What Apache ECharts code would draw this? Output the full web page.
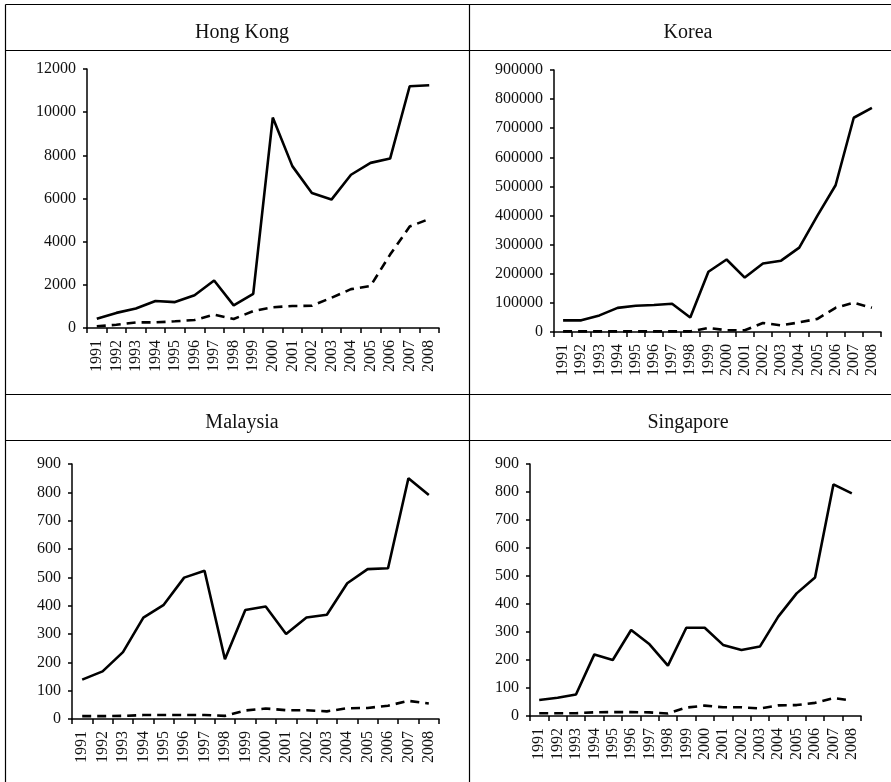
<!DOCTYPE html>
<html>
<head>
<meta charset="utf-8">
<script src="https://cdn.jsdelivr.net/npm/echarts@6/dist/echarts.min.js"></script>
<style>
html,body{margin:0;padding:0;background:#fff;}
#c{width:891px;height:782px;}
</style>
</head>
<body>
<div id="c"></div>
<script>
const years = ['1991','1992','1993','1994','1995','1996','1997','1998','1999','2000','2001','2002','2003','2004','2005','2006','2007','2008'];

const panelTitles = ['Hong Kong','Korea','Malaysia','Singapore'];

const hkSolid = [430,700,900,1250,1200,1520,2200,1050,1580,9750,7500,6250,5950,7100,7650,7850,11200,11250];
const hkDashed = [80,150,260,260,310,370,620,420,780,960,1020,1030,1400,1800,1950,3400,4700,5050];

const krSolid = [40000,40000,57000,83000,90000,93000,97000,50000,207000,249000,187000,235000,245000,290000,400000,504000,736000,770000];
const krDashed = [2000,2000,2000,2000,2000,2000,2000,2000,14000,6000,6000,31000,23000,33000,45000,83000,101000,83000];

const mySolid = [139,168,236,358,403,499,523,211,385,397,300,358,368,479,529,532,850,791];
const myDashed = [10,10,11,14,14,14,14,11,30,37,31,31,27,38,39,47,64,55];

const sgSolid = [57,65,77,220,200,307,256,180,315,315,254,236,248,355,438,495,827,795];
const sgDashed = [10,10,10,13,14,14,13,9,30,37,31,31,27,38,39,47,64,55];

const yMax = [12000,900000,900,900];
const yInterval = [2000,100000,100,100];

const solidSeries = [hkSolid, krSolid, mySolid, sgSolid];
const dashedSeries = [hkDashed, krDashed, myDashed, sgDashed];

const FONT = 'Liberation Serif';

const grids = [
  {left:87, right:452, top:69, bottom:454},
  {left:554, right:10, top:70, bottom:450},
  {left:72, right:452, top:464, bottom:63},
  {left:530, right:30, top:464, bottom:66}
];

const titleCenters = [[237,28],[683,28],[237,418],[683,418]];

const chart = echarts.init(document.getElementById('c'), null, {renderer:'canvas'});

const xAxes = grids.map((g,i)=>({
  type:'category', gridIndex:i, data:years, boundaryGap:true,
  axisLine:{lineStyle:{color:'#000',width:1.5}},
  axisTick:{show:true, inside:false, length:5, alignWithLabel:false, lineStyle:{color:'#000',width:1.5}},
  axisLabel:{rotate:90, interval:0, margin:12, color:'#111', fontFamily:FONT, fontSize:16}
}));
const yAxes = grids.map((g,i)=>({
  type:'value', gridIndex:i, min:0, max:yMax[i], interval:yInterval[i],
  axisLine:{show:true, lineStyle:{color:'#000',width:1.5}},
  axisTick:{show:true, length:4, lineStyle:{color:'#000',width:1.5}},
  splitLine:{show:false},
  axisLabel:{margin:11, color:'#111', fontFamily:FONT, fontSize:16, formatter:(v)=>String(v)}
}));

const series = [];
for (let i=0;i<4;i++){
  series.push({type:'line', xAxisIndex:i, yAxisIndex:i, data:solidSeries[i], symbol:'none',
    lineStyle:{color:'#000', width:2.6, type:'solid'}, animation:false, silent:true});
  series.push({type:'line', xAxisIndex:i, yAxisIndex:i, data:dashedSeries[i], symbol:'none',
    lineStyle:{color:'#000', width:2.6, type:[9,6]}, animation:false, silent:true});
}

const lineStyle = {stroke:'#000', lineWidth:1.2};
const graphics = [
  {type:'line', shape:{x1:5.5,y1:4.5,x2:891,y2:4.5}, style:lineStyle},
  {type:'line', shape:{x1:5.5,y1:50.5,x2:891,y2:50.5}, style:lineStyle},
  {type:'line', shape:{x1:5.5,y1:394.5,x2:891,y2:394.5}, style:lineStyle},
  {type:'line', shape:{x1:5.5,y1:440.5,x2:891,y2:440.5}, style:lineStyle},
  {type:'line', shape:{x1:5.5,y1:4.5,x2:5.5,y2:782}, style:lineStyle},
  {type:'line', shape:{x1:469.5,y1:4.5,x2:469.5,y2:782}, style:lineStyle}
];

chart.setOption({
  animation:false,
  backgroundColor:'#fff',
  title: panelTitles.map((t,i)=>({
    text:t, left:titleCenters[i][0], top:titleCenters[i][1], textAlign:'center', textVerticalAlign:'middle',
    textStyle:{fontFamily:FONT, fontSize:20, fontWeight:'normal', color:'#111'}
  })),
  grid: grids,
  xAxis: xAxes,
  yAxis: yAxes,
  series: series,
  graphic: graphics
});
</script>
</body>
</html>
